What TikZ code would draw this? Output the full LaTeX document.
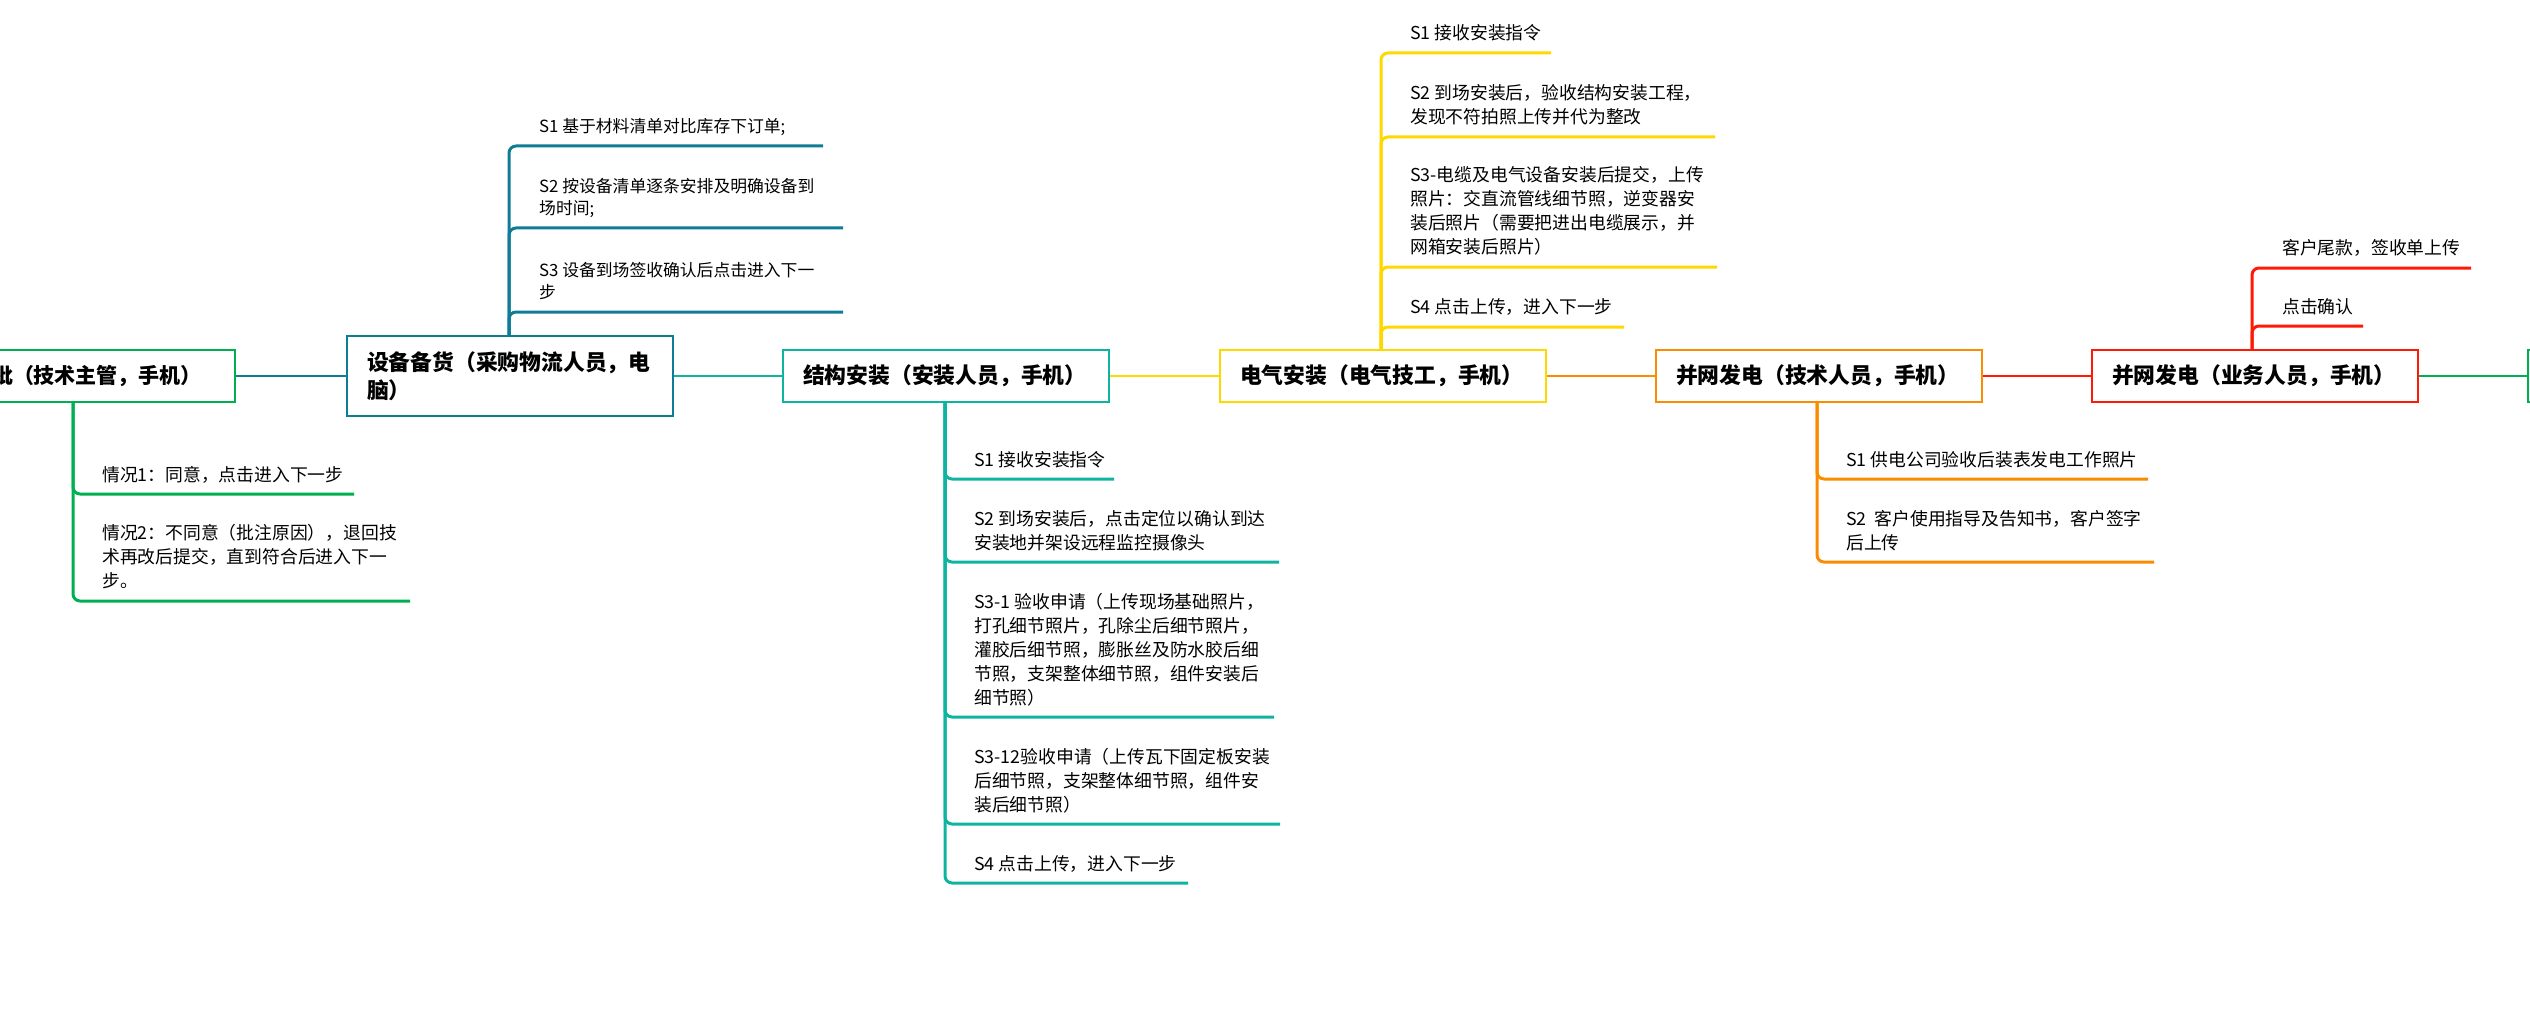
\documentclass[tikz,border=0pt]{standalone}
\usepackage{fontspec}
\setmainfont{Noto Sans CJK SC}
\usetikzlibrary{calc}
\definecolor{cgreen}{HTML}{00B050}
\definecolor{cblue}{HTML}{0E7C96}
\definecolor{cteal}{HTML}{0FB4A0}
\definecolor{cyellow}{HTML}{FFD800}
\definecolor{corange}{HTML}{F98C00}
\definecolor{cred}{HTML}{FF1A05}
\tikzset{
  box/.style={draw, line width=2pt, fill=white, minimum height=52pt, inner ysep=0pt,
    inner xsep=20pt, text width=286pt, align=left,
    font=\fontsize{21.8}{28}\selectfont\bfseries, anchor=west},
  firstbox/.style={draw, line width=2pt, fill=white, minimum height=52pt, inner ysep=0pt,
    inner xsep=33pt, font=\fontsize{21}{28}\selectfont\bfseries, anchor=east},
  link/.style={line width=2.7pt},
  br/.style={line width=3pt, rounded corners=7pt},
  sub/.style={anchor=west, inner sep=0pt, align=left, font=\fontsize{17.8}{24}\selectfont},
  subs/.style={anchor=west, inner sep=0pt, align=left, font=\fontsize{16.8}{22}\selectfont},
}
\begin{document}
\begin{tikzpicture}[x=1pt, y=-1pt]
\useasboundingbox (0,0) rectangle (2530,1035);

% main boxes
\node[firstbox, draw=cgreen] (n1) at (236,376) {批（技术主管，手机）};
\node[box, draw=cblue, minimum height=80pt] (n2) at (346,376) {设备备货（采购物流人员，电\\脑）};
\node[box, draw=cteal] (n3) at (782,376) {结构安装（安装人员，手机）};
\node[box, draw=cyellow] (n4) at (1219,376) {电气安装（电气技工，手机）};
\node[box, draw=corange] (n5) at (1655,376) {并网发电（技术人员，手机）};
\node[box, draw=cred] (n6) at (2091,376) {并网发电（业务人员，手机）};
\node[box, draw=cgreen] (n7) at (2527,376) {};

% connectors between boxes
\draw[link, cblue] (n1.east) -- (n2.west);
\draw[link, cteal] (n2.east) -- (n3.west);
\draw[link, cyellow] (n3.east) -- (n4.west);
\draw[link, corange] (n4.east) -- (n5.west);
\draw[link, cred] (n5.east) -- (n6.west);
\draw[link, cgreen] (n6.east) -- (n7.west);

% trunk x positions
\coordinate (t1) at (73,0);
\coordinate (t2) at (509,0);
\coordinate (t3) at (945,0);
\coordinate (t4) at (1381,0);
\coordinate (t5) at (1817,0);
\coordinate (t6) at (2252,0);

% branch of n1
\node[sub] (a1) at (102,475) {情况1：同意，点击进入下一步};
\node[sub] (a2) at (102,557) {情况2：不同意（批注原因），退回技\\术再改后提交，直到符合后进入下一\\步。};
\coordinate (a1e) at (354,494);
\coordinate (a2e) at (410,601);
\draw[br, cgreen] (t1 |- n1.south) |- (a1e);
\draw[br, cgreen] (t1 |- n1.south) |- (a2e);

% branch of n2
\node[subs] (b1) at (539,127) {S1 基于材料清单对比库存下订单;};
\node[subs] (b2) at (539,198) {S2 按设备清单逐条安排及明确设备到\\场时间;};
\node[subs] (b3) at (539,281) {S3 设备到场签收确认后点击进入下一\\步};
\coordinate (b1e) at (823,146);
\coordinate (b2e) at (843,228);
\coordinate (b3e) at (843,312);
\draw[br, cblue] (t2 |- n2.north) |- (b1e);
\draw[br, cblue] (t2 |- n2.north) |- (b2e);
\draw[br, cblue] (t2 |- n2.north) |- (b3e);

% branch of n3
\node[sub] (c1) at (974,460) {S1 接收安装指令};
\node[sub] (c2) at (974,531) {S2 到场安装后，点击定位以确认到达\\安装地并架设远程监控摄像头};
\node[sub] (c3) at (974,650) {S3-1 验收申请（上传现场基础照片，\\打孔细节照片，孔除尘后细节照片，\\灌胶后细节照，膨胀丝及防水胶后细\\节照，支架整体细节照，组件安装后\\细节照）};
\node[sub] (c4) at (974,781) {S3-12验收申请（上传瓦下固定板安装\\后细节照，支架整体细节照，组件安\\装后细节照）};
\node[sub] (c5) at (974,864) {S4 点击上传，进入下一步};
\coordinate (c1e) at (1114,479);
\coordinate (c2e) at (1279,562);
\coordinate (c3e) at (1274,717);
\coordinate (c4e) at (1280,824);
\coordinate (c5e) at (1188,883);
\foreach \e in {c1e,c2e,c3e,c4e,c5e}
  \draw[br, cteal] (t3 |- n3.south) |- (\e);

% branch of n4
\node[sub] (d1) at (1410,33) {S1 接收安装指令};
\node[sub] (d2) at (1410,105) {S2 到场安装后，验收结构安装工程，\\发现不符拍照上传并代为整改};
\node[sub] (d3) at (1410,211) {S3-电缆及电气设备安装后提交，上传\\照片：交直流管线细节照，逆变器安\\装后照片（需要把进出电缆展示，并\\网箱安装后照片）};
\node[sub] (d4) at (1410,307) {S4 点击上传，进入下一步};
\coordinate (d1e) at (1551,53);
\coordinate (d2e) at (1715,137);
\coordinate (d3e) at (1717,267);
\coordinate (d4e) at (1624,327);
\foreach \e in {d1e,d2e,d3e,d4e}
  \draw[br, cyellow] (t4 |- n4.north) |- (\e);

% branch of n5
\node[sub] (e1) at (1846,460) {S1 供电公司验收后装表发电工作照片};
\node[sub] (e2) at (1846,531) {S2 \ 客户使用指导及告知书，客户签字\\后上传};
\coordinate (e1e) at (2148,479);
\coordinate (e2e) at (2154,562);
\foreach \e in {e1e,e2e}
  \draw[br, corange] (t5 |- n5.south) |- (\e);

% branch of n6
\node[sub] (f1) at (2282,248) {客户尾款，签收单上传};
\node[sub] (f2) at (2282,307) {点击确认};
\coordinate (f1e) at (2471,268);
\coordinate (f2e) at (2363,326);
\foreach \e in {f1e,f2e}
  \draw[br, cred] (t6 |- n6.north) |- (\e);
\end{tikzpicture}
\end{document}
